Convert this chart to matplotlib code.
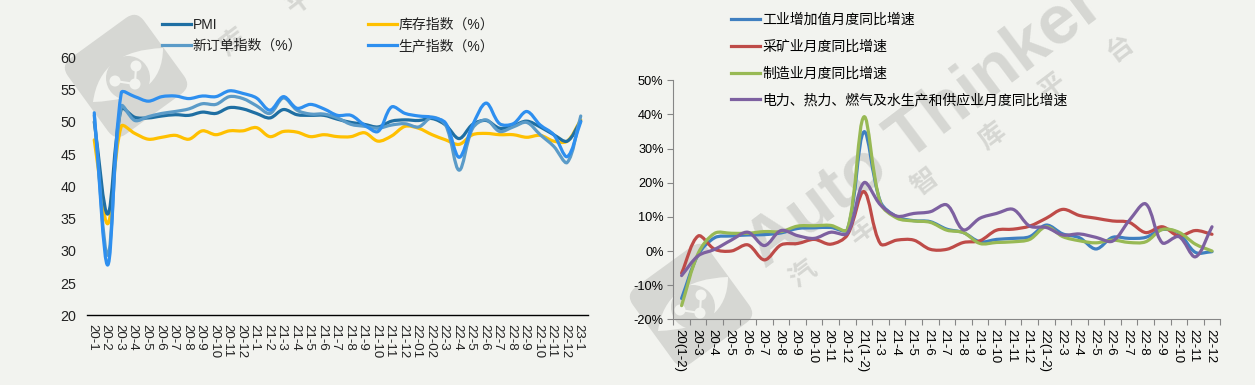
import matplotlib
matplotlib.use('Agg')
import matplotlib.pyplot as plt
from matplotlib.lines import Line2D
from matplotlib.patches import Circle, FancyBboxPatch, PathPatch
from matplotlib.path import Path
from matplotlib.transforms import Affine2D, ScaledTranslation

plt.rcParams['font.family'] = ['Liberation Sans', 'Noto Sans CJK SC', 'DejaVu Sans']

months_left = ['20-1', '20-2', '20-3', '20-4', '20-5', '20-6', '20-7', '20-8', '20-9', '20-10', '20-11', '20-12',
               '21-1', '21-2', '21-3', '21-4', '21-5', '21-6', '21-7', '21-8', '21-9', '21-10', '21-11', '21-12',
               '22-01', '22-02', '22-3', '22-4', '22-5', '22-6', '22-7', '22-8', '22-9', '22-10', '22-11', '22-12', '23-1']
pmi = [50.0, 35.7, 52.0, 50.7, 50.6, 50.9, 51.1, 51.0, 51.5, 51.3, 52.2, 52.0,
       51.3, 50.6, 51.9, 51.1, 51.0, 51.0, 50.4, 49.9, 49.6, 49.2, 50.1, 50.3,
       50.2, 50.5, 49.5, 47.4, 49.6, 50.2, 49.0, 49.4, 50.1, 49.2, 48.0, 47.0, 50.1]
new_orders = [51.0, 29.3, 52.4, 50.2, 50.8, 51.3, 51.6, 52.0, 52.8, 52.7, 53.9, 53.6,
              52.5, 51.3, 53.7, 51.8, 51.2, 51.2, 50.6, 49.6, 49.3, 49.0, 49.5, 49.7,
              49.2, 50.7, 49.5, 42.5, 49.0, 50.3, 48.5, 49.2, 49.9, 48.0, 46.2, 43.7, 50.9]
stock = [47.2, 34.2, 49.3, 48.2, 47.3, 47.6, 47.9, 47.3, 48.6, 48.0, 48.6, 48.6,
         49.1, 47.7, 48.5, 48.4, 47.7, 48.0, 47.7, 47.7, 48.3, 47.0, 47.8, 49.3,
         49.0, 48.0, 47.2, 46.5, 48.0, 48.2, 48.0, 48.0, 47.6, 47.9, 47.0, 47.0, 50.3]
production = [51.4, 27.8, 54.5, 53.9, 53.2, 53.9, 54.0, 53.6, 54.0, 53.9, 54.8, 54.4,
              53.7, 51.8, 53.9, 52.1, 52.7, 52.0, 51.0, 51.0, 49.5, 48.5, 52.3, 51.3,
              50.9, 50.7, 49.8, 44.5, 49.5, 52.9, 49.7, 49.7, 51.6, 49.5, 48.0, 44.6, 50.0]

months_right = ['20(1-2)', '20-3', '20-4', '20-5', '20-6', '20-7', '20-8', '20-9', '20-10', '20-11', '20-12',
                '21(1-2)', '21-3', '21-4', '21-5', '21-6', '21-7', '21-8', '21-9', '21-10', '21-11', '21-12',
                '22(1-2)', '22-3', '22-4', '22-5', '22-6', '22-7', '22-8', '22-9', '22-10', '22-11', '22-12']
industry = [-13.9, -1.1, 3.9, 4.4, 4.7, 4.8, 5.3, 6.6, 6.8, 6.9, 6.3,
            34.9, 14.4, 10.0, 8.9, 8.6, 6.4, 5.4, 2.7, 3.4, 3.7, 4.2,
            7.6, 5.0, 3.9, 0.6, 4.0, 3.7, 4.0, 6.3, 5.2, -0.4, -0.2]
mining = [-6.5, 4.4, 0.5, 0.0, 1.8, -2.6, 1.8, 2.2, 3.4, 2.0, 4.7,
          17.4, 2.1, 3.2, 3.2, 0.5, 0.5, 2.5, 3.0, 6.1, 6.4, 7.3,
          9.6, 12.2, 10.4, 9.6, 8.8, 8.4, 5.4, 7.1, 4.4, 6.0, 4.9]
manufacturing = [-16.0, -0.7, 5.2, 5.2, 5.2, 5.7, 5.7, 7.3, 7.4, 7.5, 6.3,
                 39.3, 14.0, 9.6, 8.8, 8.4, 6.1, 5.4, 2.2, 2.5, 2.7, 3.4,
                 7.1, 4.2, 3.0, 2.4, 3.2, 2.5, 2.7, 6.3, 5.5, 2.0, 0.0]
utilities = [-7.2, -1.4, 0.5, 3.2, 5.5, 1.6, 6.0, 4.5, 3.7, 5.5, 5.2,
             20.0, 13.5, 10.2, 11.0, 11.5, 13.5, 6.2, 9.6, 11.0, 12.2, 7.3,
             6.9, 4.7, 5.0, 4.0, 2.9, 8.9, 13.8, 2.4, 4.2, -1.7, 7.1]

bg = '#F2F3EF'
mark = '#D6D7D3'
W, H = 1255, 385


def smooth(ax, x, y, color, z, xs, ys):
    # Excel style smoothed line: bezier segments through the data points,
    # handles sized by segment length (xs, ys = pixels per data unit)
    n = len(x)

    def seg(a, b):
        return (((x[b] - x[a]) * xs) ** 2 + ((y[b] - y[a]) * ys) ** 2) ** 0.5

    verts = [(x[0], y[0])]
    for i in range(n - 1):
        p0 = max(i - 1, 0)
        p3 = min(i + 2, n - 1)
        d = seg(i, i + 1)
        k1 = d / (3 * (seg(p0, i) + d))
        k2 = d / (3 * (d + seg(i + 1, p3)))
        verts.append((x[i] + (x[i + 1] - x[p0]) * k1, y[i] + (y[i + 1] - y[p0]) * k1))
        verts.append((x[i + 1] - (x[p3] - x[i]) * k2, y[i + 1] - (y[p3] - y[i]) * k2))
        verts.append((x[i + 1], y[i + 1]))
    codes = [Path.MOVETO] + [Path.CURVE4] * (len(verts) - 1)
    ax.add_patch(PathPatch(Path(verts, codes), fc='none', ec=color, lw=2.3, zorder=z, clip_on=False,
                           capstyle='round', joinstyle='round'))


def logo(ax, cx, cy):
    rot = Affine2D().rotate_deg_around(cx, cy, 54) + ax.transData
    ax.add_patch(FancyBboxPatch((cx - 47, cy - 47), 94, 94, boxstyle='round,pad=0,rounding_size=13',
                                fc=mark, ec='none', transform=rot, clip_on=False))
    eye = Path([(cx - 33, cy + 26), (cx - 26, cy - 26), (cx + 37, cy - 28), (cx + 37, cy + 24), (cx - 33, cy + 26)],
               [Path.MOVETO, Path.CURVE3, Path.CURVE3, Path.CURVE3, Path.CURVE3])
    ax.add_patch(PathPatch(eye, fc=bg, ec='none'))
    ax.add_patch(Circle((cx + 2, cy + 2), 22, fc=mark, ec='none'))
    nodes = [(cx + 10, cy - 10), (cx - 11, cy + 5), (cx + 9, cy + 8)]
    ax.plot([nodes[0][0], nodes[2][0], nodes[1][0]], [nodes[0][1], nodes[2][1], nodes[1][1]], color=bg, lw=1.5)
    for p in nodes:
        ax.add_patch(Circle(p, 5.5, fc=bg, ec='none'))


fig = plt.figure(figsize=(W / 100, H / 100), dpi=100, facecolor=bg)
shift = ScaledTranslation(-2 / 100, 0, fig.dpi_scale_trans)

# watermark layer, in pixels
wm = fig.add_axes([0, 0, 1, 1], zorder=-1)
wm.set_xlim(0, W)
wm.set_ylim(H, 0)
wm.axis('off')
logo(wm, 126, 76)
logo(wm, 691, 305)
wm.text(925, 125, 'Auto Thinker', color=mark, fontsize=50, fontweight='bold', rotation=37,
        ha='center', va='center', rotation_mode='anchor')
for ch, px, py in [('汽', 803, 275), ('车', 862, 230), ('智', 925, 182), ('库', 992, 137), ('平', 1053, 87), ('台', 1120, 48),
                   ('库', 233, 43), ('平', 300, 2)]:
    wm.text(px, py, ch, color=mark, fontsize=19, fontweight='bold', rotation=37, ha='center', va='center')

# left chart
ax1 = fig.add_axes([87.5 / W, 1 - 315.3 / H, 500 / W, 258 / H])
ax1.patch.set_visible(False)
x1 = list(range(len(months_left)))
smooth(ax1, x1, stock, '#FFC000', 3, 13.5, 6.45)
smooth(ax1, x1, pmi, '#1F6FA3', 4, 13.5, 6.45)
smooth(ax1, x1, new_orders, '#5B9BC8', 5, 13.5, 6.45)
smooth(ax1, x1, production, '#2E8FEF', 6, 13.5, 6.45)
ax1.set_xlim(-0.5, len(months_left) - 0.5)
ax1.set_ylim(20, 60)
ax1.set_yticks(range(20, 61, 5))
ax1.set_xticks(x1)
ax1.set_xticklabels(months_left, rotation=270, fontsize=9.5, color='#222222')
ax1.tick_params(axis='y', length=0, labelsize=10.3, pad=8, labelcolor='#222222')
ax1.tick_params(axis='x', length=0, pad=6)
for lab in ax1.get_xticklabels():
    lab.set_transform(lab.get_transform() + shift)
for s in ['top', 'right', 'left']:
    ax1.spines[s].set_visible(False)
ax1.spines['bottom'].set_color('black')
ax1.spines['bottom'].set_linewidth(1)
names1 = ['PMI', '新订单指数（%）', '库存指数（%）', '生产指数（%）']
cols1 = ['#1F6FA3', '#5B9BC8', '#FFC000', '#2E8FEF']
ax1.legend([Line2D([], [], color=c, lw=2.3) for c in cols1], names1, ncol=2, frameon=False, fontsize=10,
           handlelength=2.1, handletextpad=0.1, columnspacing=4.75, labelspacing=0.5,
           loc='upper left', bbox_to_anchor=(162 / W, 1 - 18 / H), bbox_transform=fig.transFigure, borderaxespad=0,
           borderpad=0, labelcolor='#222222')

# right chart
ax2 = fig.add_axes([673.3 / W, 1 - 319.3 / H, 547 / W, 239 / H])
ax2.patch.set_visible(False)
x2 = list(range(len(months_right)))
smooth(ax2, x2, industry, '#3F7FC0', 3, 16.58, 3.414)
smooth(ax2, x2, mining, '#BE4B48', 4, 16.58, 3.414)
smooth(ax2, x2, manufacturing, '#98B954', 5, 16.58, 3.414)
smooth(ax2, x2, utilities, '#7D60A0', 6, 16.58, 3.414)
ax2.set_xlim(-0.5, len(months_right) - 0.5)
ax2.set_ylim(-20, 50)
ax2.set_yticks(range(-20, 51, 10))
ax2.set_yticklabels([f'{v}%' for v in range(-20, 51, 10)])
ax2.set_xticks([i - 0.5 for i in range(len(months_right) + 1)])
ax2.set_xticklabels([])
ax2.set_xticks(x2, minor=True)
ax2.set_xticklabels(months_right, minor=True, rotation=270, fontsize=9.5)
ax2.tick_params(axis='x', which='major', length=4, color='#868686', direction='out')
ax2.tick_params(axis='x', which='minor', length=0, pad=7)
ax2.tick_params(axis='y', length=4, color='#868686', labelsize=9.2, pad=3)
for lab in ax2.get_xticklabels(minor=True):
    lab.set_transform(lab.get_transform() + shift)
for s in ['top', 'right']:
    ax2.spines[s].set_visible(False)
for s in ['left', 'bottom']:
    ax2.spines[s].set_color('#868686')
names2 = ['工业增加值月度同比增速', '采矿业月度同比增速', '制造业月度同比增速', '电力、热力、燃气及水生产和供应业月度同比增速']
cols2 = ['#3F7FC0', '#BE4B48', '#98B954', '#7D60A0']
ax2.legend([Line2D([], [], color=c, lw=2.3) for c in cols2], names2, frameon=False, fontsize=10,
           handlelength=2.1, handletextpad=0.15, labelspacing=0.92,
           loc='upper left', bbox_to_anchor=(731 / W, 1 - 13 / H), bbox_transform=fig.transFigure, borderaxespad=0,
           borderpad=0)

fig.savefig('out.png', dpi=100, facecolor=bg)
